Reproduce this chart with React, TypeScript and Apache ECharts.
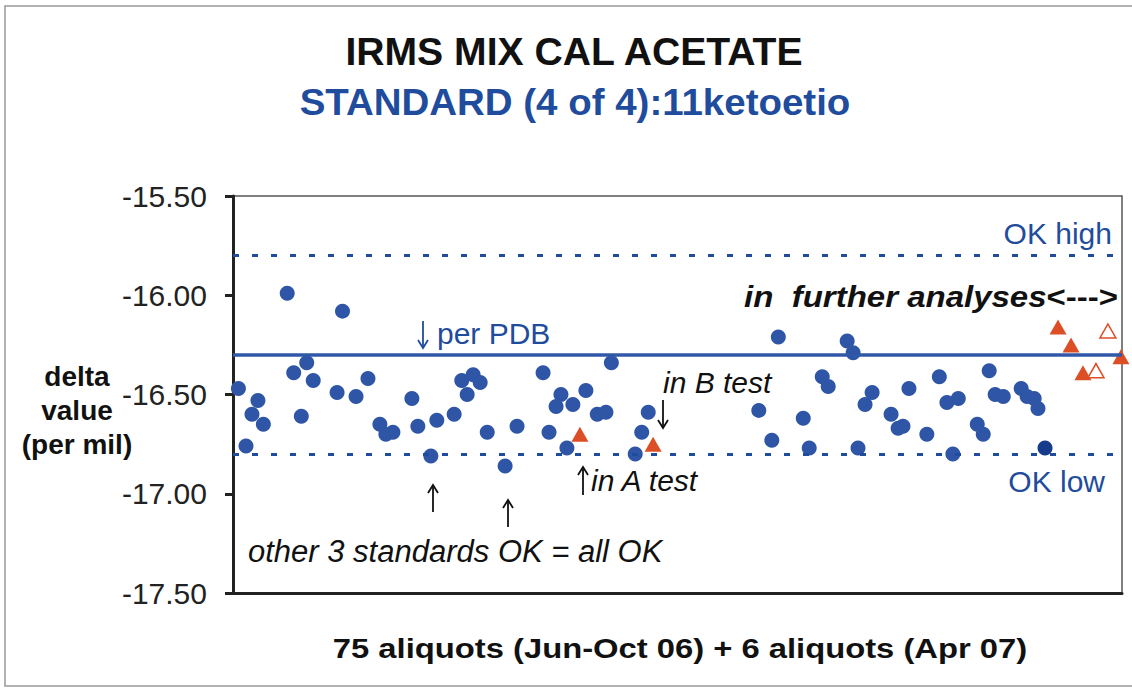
import React, { useEffect, useRef } from "react";
import * as echarts from "echarts";

// Aliquot sequence position (x) and delta value (per mil) for the 75 Jun-Oct 06 aliquots
const mainX = [0.5, 1.2, 1.75, 2.3, 2.8, 5.0, 5.6, 6.3, 6.8, 7.4, 9.6, 10.1, 11.35, 12.45, 13.55, 14.1, 14.75, 16.5, 17.05, 18.25, 18.8, 20.4, 21.1, 21.6, 22.15, 22.8, 23.45, 25.1, 26.2, 28.6, 29.15, 29.8, 30.25, 30.8, 31.35, 32.55, 33.6, 34.4, 34.9, 37.1, 37.7, 38.3, 48.5, 49.7, 50.3, 52.6, 53.15, 54.35, 54.9, 56.65, 57.2, 57.65, 58.3, 58.95, 60.7, 61.35, 61.8, 62.35, 64.0, 65.15, 65.85, 66.4, 66.9, 68.65, 69.2, 69.75, 70.3, 71.05, 72.7, 73.25, 73.9, 74.25];
const mainY = [-16.47, -16.76, -16.60, -16.53, -16.65, -15.99, -16.39, -16.61, -16.34, -16.43, -16.49, -16.08, -16.51, -16.42, -16.65, -16.70, -16.69, -16.52, -16.66, -16.81, -16.63, -16.60, -16.43, -16.50, -16.40, -16.44, -16.69, -16.86, -16.66, -16.39, -16.69, -16.56, -16.50, -16.77, -16.55, -16.48, -16.60, -16.59, -16.34, -16.80, -16.69, -16.59, -16.58, -16.73, -16.21, -16.62, -16.77, -16.41, -16.46, -16.23, -16.29, -16.77, -16.55, -16.49, -16.60, -16.67, -16.66, -16.47, -16.70, -16.41, -16.54, -16.80, -16.52, -16.65, -16.70, -16.38, -16.50, -16.51, -16.47, -16.51, -16.52, -16.57];
const lastX = [74.9];
const lastY = [-16.77];
// A test / B test aliquots
const testX = [32.0, 38.75];
const testY = [-16.70, -16.75];
// 6 aliquots Apr 07
const aprFilledX = [76.1, 77.3, 78.4, 81.9];
const aprFilledY = [-16.16, -16.25, -16.39, -16.31];
const aprOpenX = [79.6, 80.7];
const aprOpenY = [-16.38, -16.18];

const OK_HIGH = -15.8;
const PDB = -16.3;
const OK_LOW = -16.8;

const yTicks = [-17.5, -17.0, -16.5, -16.0, -15.5];

const zip = (xs: number[], ys: number[]) => xs.map((x, i) => [x, ys[i]]);

const BLUE = "#2f56a6";
const TXT_BLUE = "#1f4c9c";
const RED = "#dc4f26";
const FONT = "'Liberation Sans', Arial, sans-serif";

// annotation arrow drawn as a thin shaft with a V head
function arrow(x: number, y1: number, y2: number, color: string) {
  const dir = y2 > y1 ? 1 : -1;
  return {
    type: "group",
    children: [
      { type: "line", shape: { x1: x, y1, x2: x, y2 }, style: { stroke: color, lineWidth: 1.8 } },
      {
        type: "polyline",
        shape: { points: [[x - 5, y2 - dir * 8], [x, y2], [x + 5, y2 - dir * 8]] },
        style: { stroke: color, lineWidth: 1.8, fill: "none" },
      },
    ],
  };
}

function label(text: string, x: number, y: number, font: string, fill: string, align = "left", scaleX = 1) {
  return {
    type: "text",
    x,
    y,
    scaleX,
    style: { text, fill, font, textAlign: align, textVerticalAlign: "middle" },
  };
}

export default function App() {
  const ref = useRef<HTMLDivElement>(null);
  useEffect(() => {
    const chart = echarts.init(ref.current!, null, { renderer: "svg" });
    chart.setOption({
      animation: false,
      backgroundColor: "#ffffff",
      textStyle: { fontFamily: FONT },
      grid: {
        left: 233,
        right: 10,
        top: 196,
        bottom: 96,
        show: true,
        borderColor: "#555",
        borderWidth: 1.5,
      },
      xAxis: {
        type: "value",
        min: 0,
        max: 82,
        axisLine: { show: true, lineStyle: { color: "#222", width: 3 } },
        axisTick: { show: false },
        axisLabel: { show: false },
        splitLine: { show: false },
      },
      yAxis: {
        type: "value",
        min: yTicks[0],
        max: yTicks[yTicks.length - 1],
        interval: 0.5,
        axisLine: { show: true, lineStyle: { color: "#222", width: 3 } },
        axisTick: { show: true, length: 8, lineStyle: { color: "#222", width: 3 } },
        axisLabel: {
          color: "#222",
          fontSize: 30,
          fontFamily: FONT,
          margin: 26,
          formatter: (v: number) => v.toFixed(2),
        },
        splitLine: { show: false },
      },
      series: [
        {
          type: "scatter",
          data: [],
          z: 1,
          silent: true,
          markLine: {
            silent: true,
            symbol: "none",
            label: { show: false },
            data: [
              { yAxis: OK_HIGH, lineStyle: { color: TXT_BLUE, width: 3, type: [6, 13] } },
              { yAxis: PDB, lineStyle: { color: "#3158a8", width: 3.5, type: "solid" } },
              { yAxis: OK_LOW, lineStyle: { color: TXT_BLUE, width: 3, type: [6, 13] } },
            ],
          },
        },
        {
          type: "scatter",
          z: 3,
          clip: false,
          symbol: "circle",
          symbolSize: 15,
          itemStyle: { color: BLUE, opacity: 1 },
          data: zip(mainX, mainY),
        },
        {
          type: "scatter",
          z: 3,
          clip: false,
          symbol: "circle",
          symbolSize: 15,
          itemStyle: { color: "#163a8c", opacity: 1 },
          data: zip(lastX, lastY),
        },
        {
          type: "scatter",
          z: 4,
          clip: false,
          symbol: "triangle",
          symbolSize: [17, 15],
          itemStyle: { color: RED, opacity: 1 },
          data: zip(testX, testY).concat(zip(aprFilledX, aprFilledY)),
        },
        {
          type: "scatter",
          z: 4,
          clip: false,
          symbol: "triangle",
          symbolSize: [16, 14],
          itemStyle: { color: "#ffffff", borderColor: RED, borderWidth: 1.5, opacity: 1 },
          data: zip(aprOpenX, aprOpenY),
        },
      ],
      graphic: [
        {
          type: "rect",
          z: 0,
          shape: { x: 5, y: 6, width: 1140, height: 680 },
          style: { fill: "none", stroke: "#999", lineWidth: 1.5 },
        },
        label("IRMS MIX CAL ACETATE", 574, 52, `bold 38px ${FONT}`, "#111", "center", 1.03),
        label("STANDARD (4 of 4):11ketoetio", 575, 102, `bold 37px ${FONT}`, TXT_BLUE, "center", 1.04),
        {
          type: "text",
          x: 77,
          y: 410,
          style: {
            text: "delta\nvalue\n(per mil)",
            fill: "#111",
            font: `bold 28px ${FONT}`,
            lineHeight: 34,
            textAlign: "center",
            textVerticalAlign: "middle",
          },
        },
        label("75 aliquots (Jun-Oct 06) + 6 aliquots (Apr 07)", 680, 648, `bold 28px ${FONT}`, "#111", "center", 1.17),
        label("OK high", 1112, 233, `30px ${FONT}`, TXT_BLUE, "right"),
        label("OK low", 1105, 481, `30px ${FONT}`, TXT_BLUE, "right"),
        arrow(423, 321, 348, TXT_BLUE),
        label("per PDB", 437, 333, `30px ${FONT}`, TXT_BLUE, "left"),
        {
          type: "text",
          x: 1118,
          y: 297,
          scaleX: 1.1,
          style: {
            text: "{a|in  further analyses}{b|<--->}",
            textAlign: "right",
            textVerticalAlign: "middle",
            rich: {
              a: { font: `italic bold 30px ${FONT}`, fill: "#111" },
              b: { font: `bold 30px ${FONT}`, fill: "#111" },
            },
          },
        },
        label("in B test", 663, 382, `italic 30px ${FONT}`, "#111", "left"),
        arrow(663, 400, 428, "#111"),
        arrow(583, 495, 467, "#111"),
        label("in A test", 591, 480, `italic 30px ${FONT}`, "#111", "left"),
        arrow(433, 512, 485, "#111"),
        arrow(508, 527, 500, "#111"),
        label("other 3 standards OK = all OK", 248, 551, `italic 31px ${FONT}`, "#111", "left"),
      ],
    });
    return () => chart.dispose();
  }, []);
  return (
    <div
      ref={ref}
      style={{ position: "fixed", left: 0, top: 0, width: 1132, height: 689, background: "#fff" }}
    />
  );
}
